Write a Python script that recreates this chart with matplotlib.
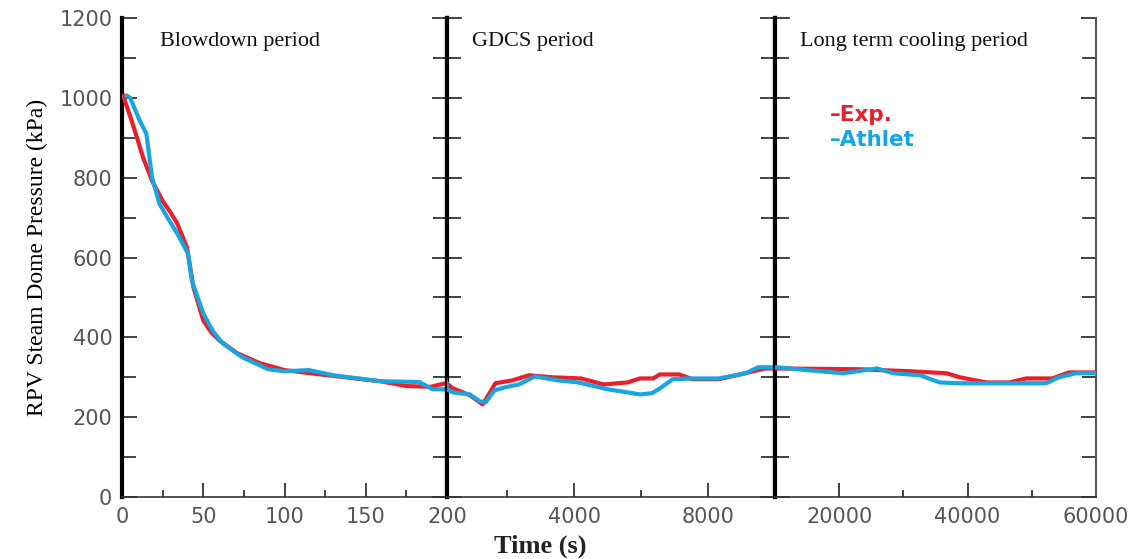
import matplotlib
matplotlib.use('Agg')
import matplotlib.pyplot as plt
from matplotlib.ticker import MultipleLocator, FixedLocator

# experiment (red) and ATHLET (blue) pressure vs time
exp_t = [1, 2, 6, 10, 13, 18.5, 25, 30, 34, 40, 44, 50, 55, 60, 71, 85, 100, 122, 159, 175, 190, 198,
         382, 883, 1265, 1470, 1647, 2147, 2647, 3323, 4206, 4882, 5588, 5970, 6353, 6560, 7147,
         7530, 8323, 9117, 9706, 10400, 23255, 31000, 36740, 38755, 42940, 46500, 49140, 53170,
         55800, 60000]
exp_p = [1005, 990, 942, 890, 850, 792, 742, 712, 685, 625, 525, 442, 412, 392, 360, 335, 318, 307, 290, 278, 276, 284,
         272, 255, 232, 260, 285, 292, 305, 300, 297, 282, 287, 297, 297, 307, 307,
         295, 295, 310, 322, 322, 320, 315, 310, 300, 287, 287, 297, 297,
         312, 312]
ath_t = [3, 5, 11, 15, 18.5, 23, 28, 34, 40.6, 43, 50, 56, 62, 74, 90, 100, 115, 130, 159, 183, 191,
         382, 883, 1176, 1353, 1617, 1941, 2353, 2823, 3530, 4118, 5000, 5970, 6323, 6560, 6941,
         7530, 8323, 9117, 9500, 10400, 15500, 20600, 25900, 28400, 32600, 35650, 38755, 52240,
         54255, 56900, 60000]
ath_p = [1005, 1000, 942, 910, 800, 735, 700, 660, 610, 542, 460, 415, 385, 350, 320, 315, 318, 305, 290, 288, 270,
         262, 257, 240, 237, 267, 275, 282, 302, 292, 287, 270, 257, 260, 272, 295,
         297, 297, 310, 325, 325, 317, 310, 322, 310, 305, 287, 285, 285,
         300, 310, 310]

periods = ['Blowdown period', 'GDCS period', 'Long term cooling period']
xlims = [(0, 200), (200, 10000), (10000, 60000)]
major = [[0, 50, 100, 150, 200], [4000, 8000], [20000, 40000, 60000]]
minor = [[25, 75, 125, 175], [2000, 6000], [30000, 50000]]

W, H = 1139, 559
fig = plt.figure(figsize=(W / 100, H / 100), dpi=100)
edges = [122, 447, 775, 1096]
bot, top = 497, 18
red = '#e8202c'
blue = '#19a4e2'
tick_col = '#555555'

axes = []
for i in range(3):
    ax = fig.add_axes([edges[i] / W, 1 - bot / H, (edges[i + 1] - edges[i]) / W, (bot - top) / H])
    axes.append(ax)
    ax.plot(exp_t, exp_p, color=red, lw=3, solid_joinstyle='round', zorder=3)
    ax.plot(ath_t, ath_p, color=blue, lw=3, solid_joinstyle='round', zorder=4)
    ax.set_xlim(*xlims[i])
    ax.set_ylim(0, 1200)
    ax.xaxis.set_major_locator(FixedLocator(major[i]))
    ax.xaxis.set_minor_locator(FixedLocator(minor[i]))
    ax.yaxis.set_major_locator(MultipleLocator(200))
    ax.yaxis.set_minor_locator(MultipleLocator(100))
    ax.tick_params(which='both', direction='in', left=True, right=True, top=False, color='#222222')
    ax.tick_params(which='major', length=10, width=1.2, labelsize=15, labelcolor=tick_col, pad=7)
    ax.tick_params(which='minor', length=5, width=1.2)
    ax.tick_params(axis='y', which='major', length=11)
    ax.tick_params(axis='y', which='minor', length=10)
    if i > 0:
        ax.tick_params(axis='y', labelleft=False)
    if i == 1:
        ax.set_xticklabels(['4000', '8000'])
    ax.spines['top'].set_visible(False)
    ax.spines['bottom'].set_color('#333333')
    ax.spines['bottom'].set_linewidth(1.2)
    for s in ['left', 'right']:
        ax.spines[s].set_color('black')
        ax.spines[s].set_linewidth(3)
    ax.text(0.117 if i == 0 else 0.077, 0.95, periods[i], transform=ax.transAxes,
            family='Liberation Serif', fontsize=16, ha='left', va='center', color='#111111')

axes[2].spines['right'].set_linewidth(1.5)
axes[2].spines['right'].set_color('#555555')

axes[0].set_ylabel('RPV Steam Dome Pressure (kPa)', family='Liberation Serif', fontsize=17, labelpad=8)
fig.text(540 / W, 1 - 546 / H, 'Time (s)', family='Liberation Serif', fontweight='bold',
         fontsize=19, ha='center', va='center', color='#222222')

axes[2].text(0.17, 0.797, '\u2013Exp.', transform=axes[2].transAxes, color=red,
             fontsize=15.5, fontweight='bold', ha='left', va='center')
axes[2].text(0.17, 0.745, '\u2013Athlet', transform=axes[2].transAxes, color=blue,
             fontsize=15.5, fontweight='bold', ha='left', va='center')

fig.savefig('out.png', dpi=100)
